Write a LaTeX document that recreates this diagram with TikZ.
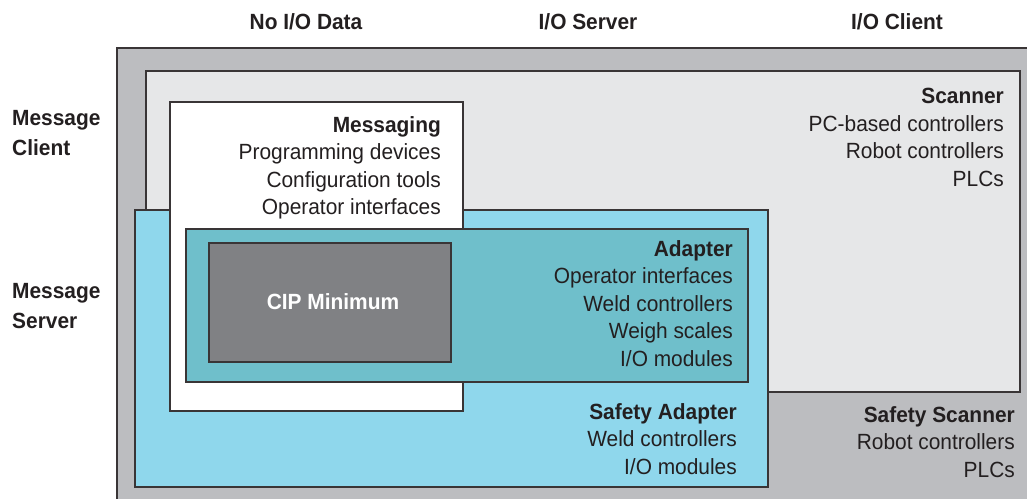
\documentclass[tikz,border=0pt]{standalone}
\usepackage{fontspec}
\setmainfont{Liberation Sans}[FakeStretch=0.95]
\definecolor{outergray}{RGB}{188,189,192}
\definecolor{scangray}{RGB}{230,231,232}
\definecolor{safeblue}{RGB}{143,215,236}
\definecolor{adaptteal}{RGB}{111,191,203}
\definecolor{cipgray}{RGB}{128,129,132}
\definecolor{ink}{RGB}{35,31,32}
\begin{document}
\begin{tikzpicture}[x=1pt,y=-1pt,line join=miter,
		box/.style={draw=ink!90,line width=1.1pt},
		every node/.style={inner sep=0pt,text=ink,font=\fontsize{22}{27.5}\selectfont},
		lst/.style={anchor=north east,align=right},
		hdr/.style={font=\fontsize{22}{30}\selectfont\bfseries}
	]
	\useasboundingbox (0,0) rectangle (1027,498);
	\clip (0,0) rectangle (1027,498);
	% boxes, back to front
	\draw[box,fill=outergray] (117,48) rectangle (1040,510);
	\draw[box,fill=scangray] (146,71) rectangle (1020,392);
	\draw[box,fill=safeblue] (135,210) rectangle (768,487);
	\draw[box,fill=white] (170,102) rectangle (463,411);
	\draw[box,fill=adaptteal] (186,229) rectangle (748,382);
	\draw[box,fill=cipgray] (209,243) rectangle (451,362);
	% column and row heads
	\node[hdr,anchor=north] (noio) at (306,13) {No I/O Data};
	\node[hdr,anchor=north] (ioserver) at (588,13) {I/O Server};
	\node[hdr,anchor=north] (ioclient) at (897,13) {I/O Client};
	\node[hdr,anchor=north west,align=left] (msgclient) at (12,110) {Message\\Client};
	\node[hdr,anchor=north west,align=left] (msgserver) at (12,283) {Message\\Server};
	% device lists
	\node[lst] (scanner) at (1004,88) {\textbf{Scanner}\\PC-based controllers\\Robot controllers\\PLCs};
	\node[lst] (messaging) at (441,116) {\textbf{Messaging}\\Programming devices\\Configuration tools\\Operator interfaces};
	\node[lst] (adapter) at (733,240) {\textbf{Adapter}\\Operator interfaces\\Weld controllers\\Weigh scales\\I/O modules};
	\node[lst] (safeadapter) at (737,403) {\textbf{Safety Adapter}\\Weld controllers\\I/O modules};
	\node[lst] (safescanner) at (1015,406) {\textbf{Safety Scanner}\\Robot controllers\\PLCs};
	\node[font=\fontsize{22}{27.5}\selectfont\bfseries,text=white] (cip) at (333,302) {CIP Minimum};
\end{tikzpicture}
\end{document}
